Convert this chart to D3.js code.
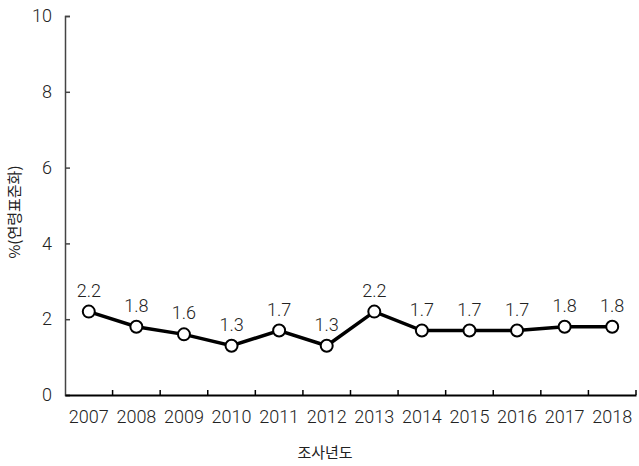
<!DOCTYPE html>
<html><head><meta charset="utf-8">
<script src="https://cdn.jsdelivr.net/npm/d3@7"></script>
<style>body{margin:0;background:#fff}text{font-family:"Noto Sans CJK KR","Noto Sans",sans-serif}.num{font-family:Roboto,"Noto Sans",sans-serif;font-weight:300}</style>
</head><body>
<svg id="c" width="639" height="466"></svg>
<script>
const years = ["2007","2008","2009","2010","2011","2012","2013","2014","2015","2016","2017","2018"];
const values = [2.2,1.8,1.6,1.3,1.7,1.3,2.2,1.7,1.7,1.7,1.8,1.8];
const yTicks = [0,2,4,6,8,10];
const xTitle = "조사년도";
const yTitle = "%(연령표준화)";

const svg = d3.select("#c");
const L = 65, R = 636, T = 16, B = 395;
const x = d3.scaleBand().domain(years).range([L, R]);
const y = d3.scaleLinear().domain([0, 10]).range([B, T]);
const txt = "#222";
const fs = 18;

// y axis
const ya = svg.append("g").attr("transform", `translate(${L},0)`)
  .call(d3.axisLeft(y).tickValues(yTicks).tickSize(-5).tickPadding(13));
ya.select(".domain").attr("stroke", "#444").attr("stroke-width", 1.5);
ya.selectAll(".tick line").attr("stroke", "#444").attr("stroke-width", 1.5);
ya.selectAll("text").attr("class", "num").attr("font-size", fs).attr("fill", txt);

// x axis
const xa = svg.append("g").attr("transform", `translate(0,${B})`)
  .call(d3.axisBottom(x).tickSize(0).tickPadding(15));
xa.select(".domain").attr("stroke", "#000").attr("stroke-width", 2);
xa.selectAll("text").attr("class", "num").attr("font-size", fs).attr("fill", txt);
const bounds = years.map((d) => x(d) + x.bandwidth());
svg.append("g").selectAll("line").data(bounds).join("line")
  .attr("x1", d => d).attr("x2", d => d).attr("y1", B).attr("y2", B - 5)
  .attr("stroke", "#000").attr("stroke-width", 1.5);

const cx = (d, i) => x(years[i]) + x.bandwidth() / 2;
const line = d3.line().x((d, i) => cx(d, i)).y(d => y(d));
svg.append("path").datum(values).attr("d", line)
  .attr("fill", "none").attr("stroke", "#000").attr("stroke-width", 3.5);
svg.append("g").selectAll("circle").data(values).join("circle")
  .attr("cx", cx).attr("cy", d => y(d)).attr("r", 6)
  .attr("fill", "#fff").attr("stroke", "#000").attr("stroke-width", 2);
svg.append("g").selectAll("text").data(values).join("text")
  .attr("class", "num")
  .attr("x", cx).attr("y", d => y(d) - 15)
  .attr("text-anchor", "middle").attr("font-size", fs).attr("fill", txt)
  .text(d => d.toFixed(1));

svg.append("text").attr("x", 325).attr("y", 458)
  .attr("text-anchor", "middle").attr("font-size", 15).attr("fill", txt).text(xTitle);
svg.append("text").attr("transform", `translate(20,212) rotate(-90)`)
  .attr("text-anchor", "middle").attr("font-size", 15).attr("fill", txt).text(yTitle);
</script>
</body></html>
